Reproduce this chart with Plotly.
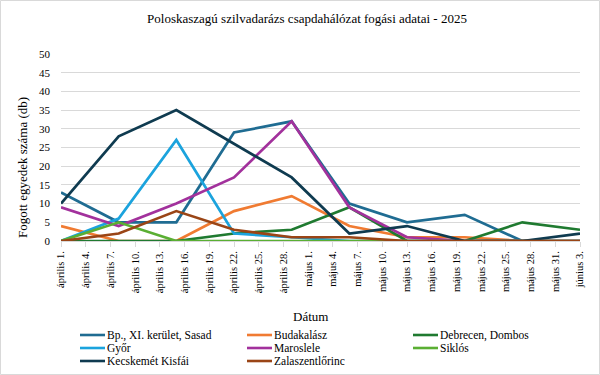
import plotly.graph_objects as go

dates = ['2025-04-01', '2025-04-08', '2025-04-15', '2025-04-22', '2025-04-29',
         '2025-05-06', '2025-05-13', '2025-05-20', '2025-05-27', '2025-06-03']

bp_sasad = [13, 5, 5, 29, 32, 10, 5, 7, 0, 0]
budakalasz = [4, 0, 0, 8, 12, 4, 1, 1, 0, 0]
debrecen = [0, 0, 0, 2, 3, 9, 0, 0, 5, 3]
gyor = [0, 6, 27, 2, 1, 0, 0, 0, 0, 0]
maroslele = [9, 4, 10, 17, 32, 9, 1, 0, 0, 0]
siklos = [0, 5, 0, 0, 0, 0, 0, 0, 0, 0]
kecskemet = [10, 28, 35, 26, 17, 2, 4, 0, 0, 2]
zalaszentlorinc = [0, 2, 8, 3, 1, 1, 0, 0, 0, 0]

series_names = ['Bp., XI. kerület, Sasad', 'Budakalász', 'Debrecen, Dombos', 'Győr',
                'Maroslele', 'Siklós', 'Kecskemét Kisfái', 'Zalaszentlőrinc']
series_values = [bp_sasad, budakalasz, debrecen, gyor, maroslele, siklos, kecskemet, zalaszentlorinc]
series_colors = ['#1F6C92', '#F07B32', '#1F7A30', '#1BA3DD', '#A2319C', '#5AAF33', '#0F3B50', '#9A4516']

tick_dates = ['2025-04-01', '2025-04-04', '2025-04-07', '2025-04-10', '2025-04-13', '2025-04-16',
              '2025-04-19', '2025-04-22', '2025-04-25', '2025-04-28', '2025-05-01', '2025-05-04',
              '2025-05-07', '2025-05-10', '2025-05-13', '2025-05-16', '2025-05-19', '2025-05-22',
              '2025-05-25', '2025-05-28', '2025-05-31', '2025-06-03']
tick_labels = ['április 1.', 'április 4.', 'április 7.', 'április 10.', 'április 13.', 'április 16.',
               'április 19.', 'április 22.', 'április 25.', 'április 28.', 'május 1.', 'május 4.',
               'május 7.', 'május 10.', 'május 13.', 'május 16.', 'május 19.', 'május 22.',
               'május 25.', 'május 28.', 'május 31.', 'június 3.']

FONT = 'Liberation Serif, Times New Roman, serif'

fig = go.Figure()
for name, vals, col in zip(series_names, series_values, series_colors):
    fig.add_trace(go.Scatter(x=dates, y=vals, name=name, mode='lines',
                             line=dict(color=col, width=2.7), showlegend=False))

L, R, T, B = 61, 20, 54, 134
W, H = 600, 375
pw, ph = W - L - R, H - T - B


def px(x):
    return (x - L) / pw


def py(y):
    return (H - B - y) / ph


fig.update_layout(
    width=W, height=H,
    margin=dict(l=L, r=R, t=T, b=B, autoexpand=False),
    paper_bgcolor='white', plot_bgcolor='white',
    font=dict(family=FONT, color='#000000'),
    title=dict(text='Poloskaszagú szilvadarázs csapdahálózat fogási adatai - 2025',
               x=(307 - L) / pw, xref='paper', xanchor='center', y=1 - 18 / H, yanchor='middle',
               font=dict(size=13, family=FONT, color='#000000')),
    xaxis=dict(type='date', range=['2025-04-01', '2025-06-03'], automargin=False,
               tickvals=tick_dates, ticktext=tick_labels, tickangle=-90,
               tickfont=dict(size=10.5, family=FONT, color='#000000'), showgrid=False,
               showline=True, linecolor='#D9D9D9', linewidth=1,
               ticks='outside', ticklen=5, tickcolor='#D9D9D9', zeroline=False),
    yaxis=dict(range=[0, 50], dtick=5, automargin=False,
               tickfont=dict(size=11, family=FONT, color='#000000'),
               showgrid=True, gridcolor='#D9D9D9', gridwidth=1,
               zeroline=False, showline=False, ticks='', ticklabelstandoff=10),
    showlegend=False,
)

fig.add_annotation(text='Fogott egyedek száma (db)', xref='paper', yref='paper',
                   x=px(22), y=py(168), textangle=-90,
                   showarrow=False, xanchor='center', yanchor='middle',
                   font=dict(size=13, family=FONT, color='#000000'))
fig.add_annotation(text='Dátum', xref='paper', yref='paper',
                   x=px(310), y=py(316),
                   showarrow=False, xanchor='center', yanchor='middle',
                   font=dict(size=13, family=FONT, color='#000000'))

# legend (3 columns, row-major like the original)
col_x = [80, 247, 413]
row_y = [335, 348, 361]
for i, (name, col) in enumerate(zip(series_names, series_colors)):
    r, c = divmod(i, 3)
    x0 = col_x[c]
    y0 = row_y[r]
    fig.add_shape(type='line', xref='paper', yref='paper',
                  x0=px(x0), x1=px(x0 + 25), y0=py(y0), y1=py(y0),
                  line=dict(color=col, width=2.6))
    fig.add_annotation(text=name, xref='paper', yref='paper',
                       x=px(x0 + 26), y=py(y0), showarrow=False,
                       xanchor='left', yanchor='middle', borderpad=0,
                       font=dict(size=11.5, family=FONT, color='#000000'))

fig.add_shape(type='rect', xref='paper', yref='paper',
              x0=px(0.5), x1=px(W - 0.5), y0=py(H - 0.5), y1=py(0.5),
              line=dict(color='#D9D9D9', width=1), fillcolor='rgba(0,0,0,0)', layer='below')

fig.write_html('out.html', config={'displayModeBar': False},
               post_script="document.body.style.margin='0';document.body.style.padding='0';")
